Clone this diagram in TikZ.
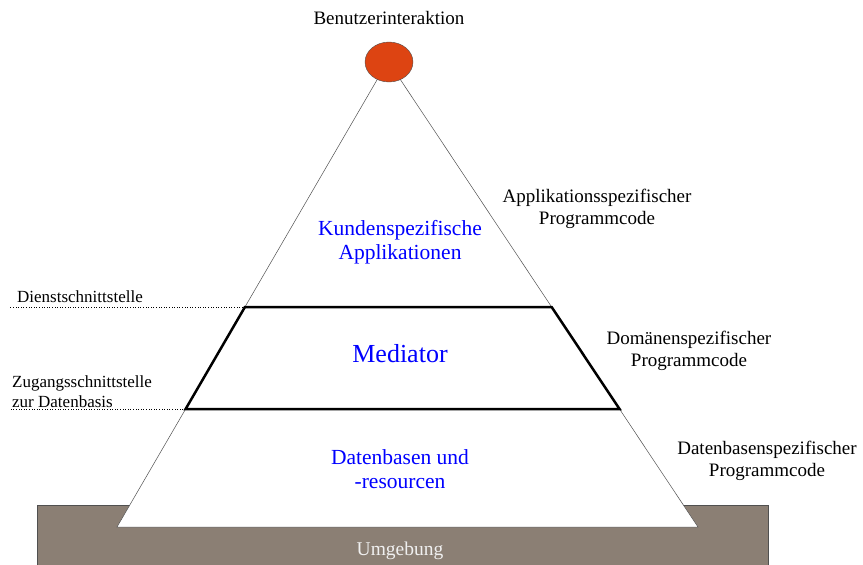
\documentclass[tikz,border=0pt]{standalone}
\usepackage{fontspec}
\setmainfont{Liberation Serif}
\usetikzlibrary{positioning,calc,shapes.geometric}
\definecolor{umgebungbraun}{RGB}{139,127,116}
\definecolor{nutzerrot}{RGB}{221,68,18}
\definecolor{randgrau}{RGB}{80,80,80}

\begin{document}
\begin{tikzpicture}[x=1pt,y=-1pt]

	\tikzset{%
		schicht/.style  = {text=blue, align=center, font=\fontsize{21.5}{24}\selectfont}, % Schichten
		code/.style     = {align=center, font=\fontsize{19}{22}\selectfont}, % Programmcode
		schnitt/.style  = {align=left, anchor=west, inner sep=0, font=\fontsize{17}{20}\selectfont}, % Schnittstellen
		grenze/.style   = {line width=2.5pt}, % Mediator
		hilfslinie/.style = {dotted, line width=0.6pt}
	}
	\useasboundingbox (0,0) rectangle (863,565);

	% Umgebung
	\draw[draw=randgrau, fill=umgebungbraun, line width=0.8pt] (37,505) rectangle (768,567);
	\node[text=white!94!black, font=\fontsize{19.5}{22}\selectfont] (umgebung) at (400,551) {Umgebung};

	% Pyramide
	\coordinate (spitze) at (388,61);
	\coordinate (links) at (117,527);
	\coordinate (rechts) at (698,527);
	\draw[draw=randgrau, fill=white, line width=0.5pt] (spitze) -- (links) -- (rechts) -- cycle;
	\node[draw=randgrau, fill=nutzerrot, ellipse, minimum width=48, minimum height=40, inner sep=0] (nutzer) at (389,62) {};
	\node[code] (interaktion) at (389,18) {Benutzerinteraktion};

	% Mediator
	\coordinate (d1) at ($(spitze)!0.528!(links)$);
	\coordinate (d2) at ($(spitze)!0.528!(rechts)$);
	\coordinate (z1) at ($(spitze)!0.747!(links)$);
	\coordinate (z2) at ($(spitze)!0.747!(rechts)$);
	\draw[grenze] (d1) -- (d2) -- (z2) -- (z1) -- cycle;

	% Schnittstellen
	\coordinate (rand) at (10,0);
	\draw[hilfslinie] (d1) -- (d1 -| rand);
	\draw[hilfslinie] (z1) -- (z1 -| rand);
	\node[schnitt] (dienst) at (17,297) {Dienstschnittstelle};
	\node[schnitt] (zugang) at (12,392) {Zugangsschnittstelle\\zur Datenbasis};

	% Schichten
	\node[schicht] (kunden) at (400,242) {Kundenspezifische\\Applikationen};
	\node[schicht, font=\fontsize{26}{28}\selectfont] (mediator) at (400,354) {Mediator};
	\node[schicht, below=79pt of mediator] (daten) {Datenbasen und\\-resourcen};

	% Programmcode
	\node[code] (appcode) at (597,209) {Applikationsspezifischer\\Programmcode};
	\node[code] (domcode) at (689,351) {Domänenspezifischer\\Programmcode};
	\node[code] (datcode) at (767,461) {Datenbasenspezifischer\\Programmcode};
\end{tikzpicture}
\end{document}
